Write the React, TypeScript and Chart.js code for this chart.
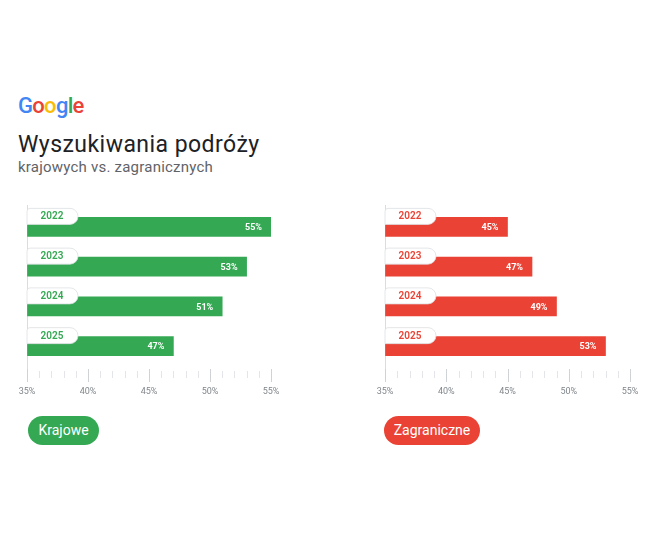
import React, { useEffect, useRef } from "react";
import { Chart, registerables } from "chart.js";

Chart.register(...registerables);

const years = ["2022", "2023", "2024", "2025"];
const domesticValues = [55, 53, 51, 47];
const foreignValues = [45, 47, 49, 53];
const axisMin = 35;
const axisMax = 55;
const titleText = "Wyszukiwania podróży";
const subtitleText = "krajowych vs. zagranicznych";
const domesticLabel = "Krajowe";
const foreignLabel = "Zagraniczne";

const GREEN = "#34a853";
const RED = "#ea4335";
const FONT = "Roboto, 'Open Sans', sans-serif";

const decorPlugin = {
  id: "decor",
  beforeDatasetsDraw(chart: any) {
    const { ctx, chartArea } = chart;
    const xs = chart.scales.x;
    ctx.save();
    ctx.strokeStyle = "#dadce0";
    ctx.lineWidth = 1;
    ctx.beginPath();
    ctx.moveTo(chartArea.left + 0.5, chartArea.top - 2);
    ctx.lineTo(chartArea.left + 0.5, chartArea.bottom + 16);
    ctx.stroke();
    xs.ticks.forEach((t: any) => {
      const x = Math.round(xs.getPixelForValue(t.value)) + 0.5;
      const major = t.value % 5 === 0;
      ctx.strokeStyle = major ? "#d0d3d6" : "#e3e5e8";
      ctx.beginPath();
      if (major) {
        ctx.moveTo(x, chartArea.bottom + 3);
        ctx.lineTo(x, chartArea.bottom + 16);
      } else {
        ctx.moveTo(x, chartArea.bottom + 5);
        ctx.lineTo(x, chartArea.bottom + 12);
      }
      ctx.stroke();
    });
    ctx.restore();
  },
  afterDatasetsDraw(chart: any) {
    const { ctx, chartArea } = chart;
    const color = chart.data.datasets[0].backgroundColor;
    const meta = chart.getDatasetMeta(0);
    ctx.save();
    meta.data.forEach((bar: any, i: number) => {
      const top = bar.y - bar.height / 2;
      const x0 = chartArea.left;
      const tabTop = top - 9;
      ctx.beginPath();
      (ctx as any).roundRect(x0, tabTop, 51, 16, [3, 8, 8, 0]);
      ctx.fillStyle = "#ffffff";
      ctx.fill();
      ctx.strokeStyle = "#dcdfe2";
      ctx.lineWidth = 0.8;
      ctx.stroke();
      ctx.fillStyle = color;
      ctx.font = `600 10px ${FONT}`;
      ctx.textAlign = "center";
      ctx.textBaseline = "middle";
      ctx.fillText(chart.data.labels[i], x0 + 25, tabTop + 8.5);
      const v = chart.data.datasets[0].data[i];
      ctx.fillStyle = "#ffffff";
      ctx.font = `bold 9px ${FONT}`;
      ctx.textAlign = "right";
      ctx.fillText(v + "%", bar.x - 9, bar.y + 1);
    });
    ctx.restore();
  },
};

function BarPanel({ values, color, width, padLeft, padRight }: { values: number[]; color: string; width: number; padLeft: number; padRight: number }) {
  const ref = useRef<HTMLCanvasElement | null>(null);
  useEffect(() => {
    if (!ref.current) return;
    const chart = new Chart(ref.current, {
      type: "bar",
      data: {
        labels: years,
        datasets: [
          {
            data: values,
            backgroundColor: color,
            base: axisMin,
            barThickness: 19,
            borderWidth: 0,
          } as any,
        ],
      },
      options: {
        indexAxis: "y",
        responsive: false,
        animation: false,
        devicePixelRatio: 1,
        layout: { padding: { left: padLeft, right: padRight, top: 17, bottom: 11.2 } },
        plugins: { legend: { display: false }, tooltip: { enabled: false }, title: { display: false } },
        scales: {
          y: { display: false },
          x: {
            min: axisMin,
            max: axisMax,
            border: { display: false },
            grid: { display: true, drawOnChartArea: false, drawTicks: true, tickLength: 18, color: "rgba(0,0,0,0)" },
            ticks: {
              stepSize: 1,
              maxTicksLimit: 40,
              autoSkip: false,
              maxRotation: 0,
              padding: 2,
              color: "#80868b",
              font: { family: FONT, size: 9 },
              callback: (v: any) => (Number(v) % 5 === 0 ? v + "%" : ""),
            },
          },
        },
      },
      plugins: [decorPlugin],
    } as any);
    return () => chart.destroy();
  }, [values, color, padLeft, padRight]);
  return <canvas ref={ref} width={width} height={220} />;
}

export default function App() {
  const googleLetters: [string, string][] = [
    ["G", "#4285f4"],
    ["o", "#ea4335"],
    ["o", "#fbbc05"],
    ["g", "#4285f4"],
    ["l", "#34a853"],
    ["e", "#ea4335"],
  ];
  const pill = (bg: string, left: number, width: number): React.CSSProperties => ({
    position: "absolute",
    left,
    top: 416,
    width,
    height: 29,
    borderRadius: 15,
    background: bg,
    color: "#fff",
    fontFamily: FONT,
    fontSize: 14,
    lineHeight: "29px",
    textAlign: "center",
  });
  return (
    <div style={{ position: "absolute", left: 0, top: 0, width: 664, height: 553, background: "#fff", overflow: "hidden" }}>
      <div style={{ position: "absolute", left: 18, top: 95, fontFamily: FONT, fontSize: 22, fontWeight: 500, lineHeight: "22px", letterSpacing: -0.7 }}>
        {googleLetters.map(([c, col], i) => (
          <span key={i} style={{ color: col }}>{c}</span>
        ))}
      </div>
      <div style={{ position: "absolute", left: 18, top: 133, fontFamily: FONT, fontSize: 23, lineHeight: "23px", color: "#202124", whiteSpace: "nowrap", letterSpacing: 0.45 }}>
        {titleText}
      </div>
      <div style={{ position: "absolute", left: 18, top: 159.5, fontFamily: FONT, fontSize: 15, lineHeight: "15px", color: "#5f6368", whiteSpace: "nowrap", letterSpacing: 0.22 }}>
        {subtitleText}
      </div>
      <div style={{ position: "absolute", left: 0, top: 190 }}>
        <BarPanel values={domesticValues} color={GREEN} width={300} padLeft={27} padRight={29} />
      </div>
      <div style={{ position: "absolute", left: 357, top: 190 }}>
        <BarPanel values={foreignValues} color={RED} width={307} padLeft={28} padRight={34} />
      </div>
      <div style={pill(GREEN, 28, 71)}>{domesticLabel}</div>
      <div style={pill(RED, 384, 96)}>{foreignLabel}</div>
    </div>
  );
}
